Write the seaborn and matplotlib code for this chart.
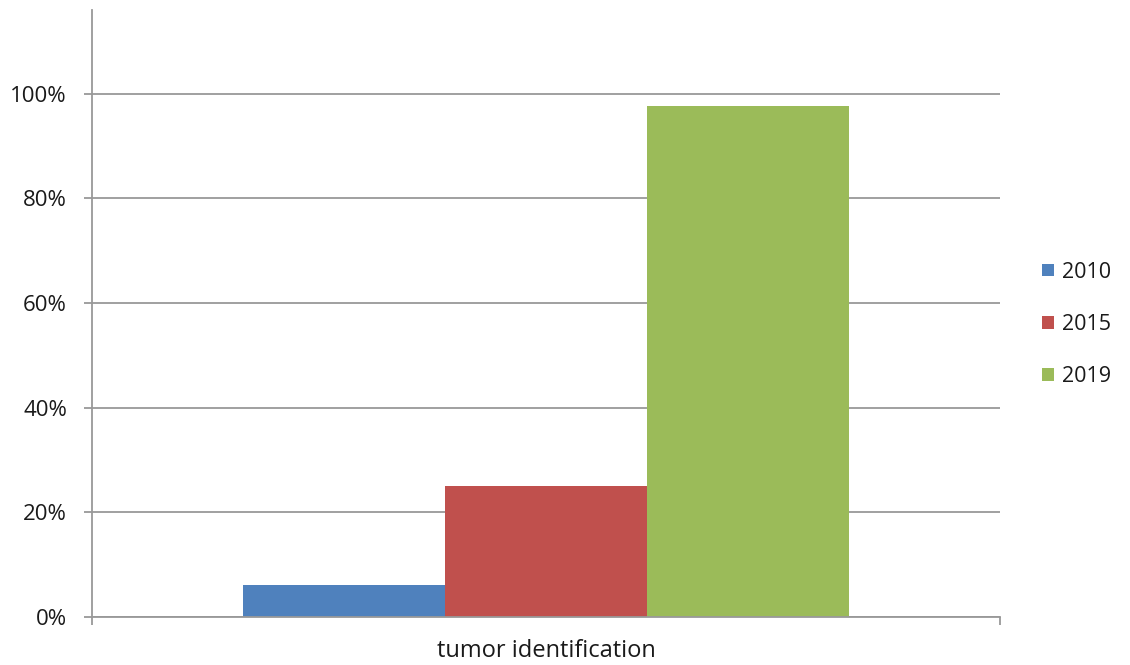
import pandas as pd
import matplotlib.pyplot as plt
import seaborn as sns
from matplotlib.patches import Patch
from matplotlib.ticker import PercentFormatter

# chart values
categories = ["tumor identification"]
years = ["2010", "2015", "2019"]
shares = [0.061, 0.25, 0.976]
colors = ["#4F81BD", "#C0504D", "#9BBB59"]

df = pd.DataFrame({
    "category": categories * len(years),
    "year": years,
    "share": shares,
})

sns.set_style("white")
plt.rcParams["font.family"] = ["Open Sans", "DejaVu Sans"]

fig = plt.figure(figsize=(11.3, 6.65), dpi=100)
ax = fig.add_axes([0.0814, 0.0722, 0.8035, 0.913])

sns.barplot(data=df, x="category", y="share", hue="year", palette=colors,
            width=0.667, saturation=1, linewidth=0, ax=ax, legend=False)

grid_c = "#999999"
fs = 15.5
txt_c = "#1a1a1a"
ax.set_xlim(-0.5, 0.5)
ax.set_ylim(0, 1.16)
ax.set_yticks([0, 0.2, 0.4, 0.6, 0.8, 1.0])
ax.yaxis.set_major_formatter(PercentFormatter(1.0, decimals=0))
ax.grid(axis="y", color=grid_c, linewidth=1.3)
ax.set_axisbelow(True)

for side in ["top", "right"]:
    ax.spines[side].set_visible(False)
for side in ["left", "bottom"]:
    ax.spines[side].set_color(grid_c)
    ax.spines[side].set_linewidth(1.3)

ax.tick_params(axis="y", left=True, length=6, width=1.3, color=grid_c,
               labelsize=16, labelcolor=txt_c, pad=12)
ax.tick_params(axis="x", which="major", length=0, labelsize=17,
               labelcolor=txt_c, pad=16)
ax.set_xticks([-0.5, 0.5], minor=True)
ax.tick_params(axis="x", which="minor", bottom=True, length=6, width=1.3,
               color=grid_c)
ax.set_xlabel("")
ax.set_ylabel("")

handles = [Patch(facecolor=c, edgecolor="none") for c in colors]
ax.legend(handles, years, loc="center left", bbox_to_anchor=(1.025, 0.482),
          frameon=False, fontsize=fs, handlelength=0.55, handleheight=0.55,
          handletextpad=0.4, labelspacing=1.45, labelcolor=txt_c)

fig.savefig("out.png", dpi=100)
